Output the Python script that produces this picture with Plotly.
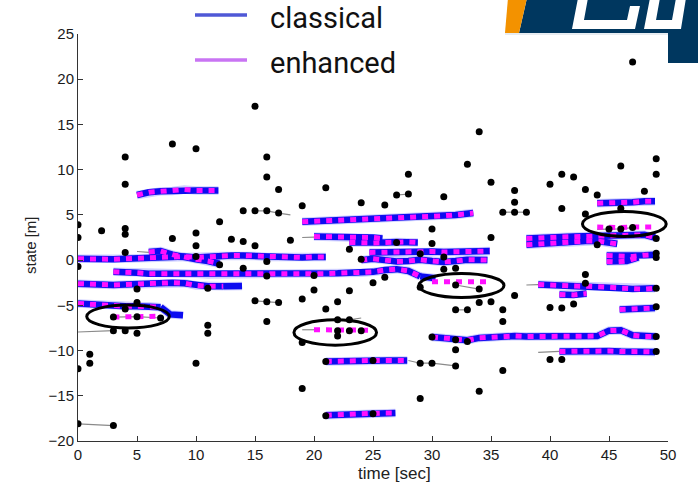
import plotly.graph_objects as go

# ---------------- measurements (black dots) ----------------
meas_t = [47, 15, 8, 10, 4, 16, 16, 4, 17, 19, 14, 15, 16, 17, 0, 0, 2, 4, 4, 12,
          8, 10, 10, 13, 14, 15, 18, 4, 0, 14, 5, 16, 20, 10, 11, 15, 16, 17, 16, 19,
          5, 4, 3, 5, 7, 3, 4, 5, 11, 11, 19, 0, 1, 1, 10, 19, 0, 3, 21, 28,
          33, 34, 35, 24, 27, 28, 26, 31, 37, 37, 36, 37, 38, 30, 30, 27, 35, 23, 31, 32,
          23, 25, 26, 22, 21, 29, 32, 34, 34, 35, 32, 33, 36, 36, 37, 22, 23, 22, 29, 30,
          32, 29, 32, 34, 36, 40, 41, 30, 25, 25, 22, 23, 24, 49, 49, 46, 41, 42, 40, 43,
          44, 48, 41, 43, 46, 45, 46, 47, 44, 43, 40, 41, 42, 49, 49, 49, 49, 49, 49, 49,
          43, 31, 29, 24, 12, 16, 20, 32, 33, 21, 21]
meas_y = [21.9, 17.0, 12.85, 12.3, 11.4, 11.4, 9.2, 8.4, 7.8, 6.0, 5.45, 5.45, 5.45, 5.2, 3.9, 2.5, 3.25, 3.5, 2.85, 4.25,
          2.4, 3.0, 1.6, 2.3, 2.05, 1.6, 2.2, 0.85, -0.7, -0.9, -3.2, -0.15, -3.3, 0.4, -3.1, -4.5, -4.6, -4.7, -6.8, -4.3,
          -4.7, -5.4, -6.3, -6.25, -6.4, -7.8, -7.8, -8.1, -7.2, -8.1, -9.1, -12.0, -10.4, -11.4, -11.4, -14.2, -18.1, -18.3, 8.0, 9.5,
          10.6, 14.2, 8.6, 6.35, 7.2, 7.3, 6.1, 7.0, 7.7, 6.4, 5.3, 5.3, 5.3, 3.45, 1.85, 1.95, 2.5, 1.2, -1.0, -0.9,
          -3.4, -2.5, -1.9, -4.6, -5.4, -3.0, -2.75, -3.2, -4.7, -4.6, -5.5, -5.5, -5.5, -6.8, -3.9, -6.6, -6.6, -8.4, -11.4, -11.4,
          -11.7, -15.3, -9.9, -14.5, -12.2, -11.0, -11.0, -8.5, -17.0, -11.1, -7.8, -7.8, -7.8, 11.2, 9.5, 10.4, 9.5, 9.2, 8.4, 7.8,
          7.2, 7.6, 5.7, 5.1, 5.7, 3.45, 3.45, 3.6, 1.7, -1.6, -5.25, -5.3, -4.85, 2.4, 0.75, 0.3, -3.1, -5.15, -8.45, -10.1,
          -2.55, 0.35, 0.7, 0.1, -0.5, -1.75, -1.7, -8.8, -9.0, -11.2, -17.2]

# ---------------- measurement associations (thin gray lines) ----------------
assoc_1_t, assoc_1_y = [15, 16, 17, 18], [5.45, 5.45, 5.2, 5.0]
assoc_2_t, assoc_2_y = [15, 16, 17], [-4.5, -4.6, -4.7]
assoc_3_t, assoc_3_y = [0, 3], [-18.1, -18.3]
assoc_4_t, assoc_4_y = [0, 3], [-7.95, -7.8]
assoc_5_t, assoc_5_y = [27, 28], [7.2, 7.3]
assoc_6_t, assoc_6_y = [36, 37, 38], [5.3, 5.3, 5.3]
assoc_7_t, assoc_7_y = [32, 34], [-2.75, -3.2]
assoc_8_t, assoc_8_y = [32, 33], [-5.5, -5.5]
assoc_9_t, assoc_9_y = [22, 23, 24], [-6.6, -6.6, -6.4]
assoc_10_t, assoc_10_y = [28, 29, 30, 32], [-11.1, -11.4, -11.4, -11.7]
assoc_11_t, assoc_11_y = [44, 45, 46, 47], [3.4, 3.45, 3.45, 3.6]
assoc_12_t, assoc_12_y = [19, 20], [2.5, 2.55]
assoc_13_t, assoc_13_y = [38, 39], [-2.75, -2.7]
assoc_14_t, assoc_14_y = [39, 40.8], [-10.2, -10.1]
assoc_15_t, assoc_15_y = [3, 5, 7], [-6.3, -6.25, -6.4]
assoc_16_t, assoc_16_y = [19, 20], [-7.7, -7.7]
assoc_17_t, assoc_17_y = [5, 6], [0.95, 0.85]

# ---------------- tracks common to both trackers ----------------
trk_1_t = [5, 6, 7, 8, 9, 10, 11, 11.9]
trk_1_y = [7.2, 7.5, 7.6, 7.65, 7.8, 7.7, 7.7, 7.7]
trk_2_t = list(range(0, 22))
trk_2_y = [0.15, 0.1, 0.1, 0.1, 0.15, 0.2, 0.2, 0.3, 0.4, 0.4, 0.3, 0.4, 0.45, 0.5, 0.5, 0.45,
           0.35, 0.3, 0.3, 0.3, 0.35, 0.35]
trk_3_t = [6, 7, 8, 9, 10, 11, 12]
trk_3_y = [0.9, 1.0, 0.6, 0.3, 0.1, -0.1, -0.4]
trk_4_t = list(range(3, 30))
trk_4_y = [-1.3, -1.3, -1.4, -1.5, -1.5, -1.5, -1.5, -1.5, -1.6, -1.6, -1.5, -1.5, -1.5, -1.55,
           -1.5, -1.5, -1.5, -1.55, -1.5, -1.45, -1.4, -1.4, -1.3, -1.1, -1.0, -1.2, -1.8]
trk_5_t = [0, 1, 2, 3, 4, 5, 6, 7, 8, 9, 10, 11, 12, 12.3]
trk_5_y = [-2.6, -2.7, -2.7, -2.75, -2.7, -2.65, -2.6, -2.45, -2.5, -2.55, -2.8, -2.9, -2.9, -2.9]
trk_6_t = [0, 1, 2, 3, 4, 5, 6, 7]
trk_6_y = [-4.8, -4.9, -5.0, -5.0, -5.1, -5.1, -5.1, -5.2]
trk_7_t = [19, 20, 21, 22, 23, 24, 25, 26, 27, 28, 29, 30, 31, 32, 33.5]
trk_7_y = [4.25, 4.3, 4.4, 4.4, 4.45, 4.5, 4.5, 4.6, 4.6, 4.7, 4.8, 4.8, 4.9, 5.0, 5.2]
trk_8_t = [20, 21, 22, 23, 24, 25, 25.8]
trk_8_y = [2.6, 2.6, 2.6, 2.55, 2.5, 2.5, 2.4]
trk_9_t = [23, 24, 25, 26, 27, 28, 28.8]
trk_9_y = [1.95, 1.9, 1.9, 1.95, 2.0, 2.0, 1.95]
trk_10_t = [24.7, 26, 27, 28, 29, 30, 31, 32, 33, 34, 34.9]
trk_10_y = [0.85, 0.9, 0.95, 0.95, 1.0, 0.95, 0.9, 0.9, 0.95, 1.0, 1.0]
trk_11_t = [24, 25, 26, 27, 28, 29, 30, 31, 32, 33, 34.7]
trk_11_y = [0.0, 0.15, 0.0, -0.15, -0.1, 0.05, -0.1, -0.2, -0.1, 0.05, 0.0]
trk_12_t = [44, 45, 46, 47, 48, 48.9]
trk_12_y = [6.3, 6.3, 6.4, 6.4, 6.5, 6.5]
trk_13_t = [38, 39, 40, 41, 42, 43, 44, 45, 46, 47, 48, 48.9]
trk_13_y = [2.4, 2.5, 2.5, 2.55, 2.6, 2.65, 2.7, 2.7, 2.75, 2.8, 2.8, 2.5]
trk_14_t = [38, 39, 40, 41, 42, 43, 44, 45, 45.7]
trk_14_y = [1.7, 1.8, 1.8, 1.9, 2.0, 2.1, 2.1, 1.9, 1.8]
trk_15_t = [44.8, 46, 47, 48, 48.9]
trk_15_y = [0.5, 0.5, 0.4, 0.55, 0.6]
trk_16_t = [44.8, 45.5, 46.5, 47.5]
trk_16_y = [-0.15, -0.2, -0.1, 0.3]
trk_17_t = [39, 40, 41, 42, 43, 44, 45, 46, 47, 48, 48.9]
trk_17_y = [-2.7, -2.75, -2.8, -2.75, -2.8, -2.9, -3.0, -3.1, -3.2, -3.2, -3.1]
trk_18_t = [40.8, 42, 43.1]
trk_18_y = [-3.8, -3.85, -3.7]
trk_19_t = [45.9, 47, 48, 48.9]
trk_19_y = [-5.45, -5.4, -5.45, -5.3]
trk_20_t = list(range(30, 50))
trk_20_y = [-8.5, -8.6, -8.8, -8.85, -8.6, -8.5, -8.4, -8.4, -8.45, -8.45, -8.45, -8.4, -8.4,
            -8.45, -8.4, -7.8, -7.75, -8.3, -8.45, -8.45]
trk_21_t = [40.8, 42, 43, 44, 45, 46, 47, 48, 48.9]
trk_21_y = [-10.1, -10.05, -10.0, -10.0, -10.05, -10.1, -10.15, -10.15, -10.15]
trk_22_t = [21, 22, 23, 24, 25, 26, 27, 27.9]
trk_22_y = [-11.2, -11.15, -11.1, -11.1, -11.1, -11.1, -11.1, -11.1]
trk_23_t = [21, 22, 23, 24, 25, 26, 26.9]
trk_23_y = [-17.15, -17.1, -16.95, -16.9, -16.9, -16.9, -16.9]

# ---------------- classical-only continuations ----------------
cls_tail_1_t, cls_tail_1_y = [29, 30.3], [-1.8, -2.0]
cls_tail_2_t, cls_tail_2_y = [12.3, 13, 13.9], [-2.9, -2.85, -2.85]
cls_tail_3_t, cls_tail_3_y = [7, 7.8, 8.9], [-5.2, -6.0, -6.1]

# ---------------- enhanced-only tracks ----------------
enh_1_t, enh_1_y = [3, 4, 5, 6, 7], [-6.3, -6.25, -6.2, -6.2, -6.2]
enh_2_t, enh_2_y = [20, 21, 22, 23, 24, 24.6], [-7.7, -7.7, -7.75, -7.7, -7.7, -7.75]
enh_3_t, enh_3_y = [30, 31, 32, 33, 34, 34.9], [-2.4, -2.35, -2.4, -2.4, -2.4, -2.4]
enh_4_t, enh_4_y = [44, 45, 46, 47, 48, 48.7], [3.65, 3.6, 3.6, 3.65, 3.65, 3.65]

# ---------------- highlighted regions (center t, center y, half-width, half-height) ----------------
ring_cx = [4.24, 21.8, 32.5, 46.3]
ring_cy = [-6.23, -8.0, -2.8, 4.0]
ring_rx = [3.5, 3.5, 3.6, 3.55]
ring_ry = [1.27, 1.4, 1.33, 1.38]

# axis ticks
x_ticks = [0, 5, 10, 15, 20, 25, 30, 35, 40, 45, 50]
y_ticks = [-20, -15, -10, -5, 0, 5, 10, 15, 20, 25]

legend_names = ["classical", "enhanced"]
legend_colors = ["#4f58d6", "#c974f3"]

assoc = [(assoc_1_t, assoc_1_y), (assoc_2_t, assoc_2_y), (assoc_3_t, assoc_3_y),
         (assoc_4_t, assoc_4_y), (assoc_5_t, assoc_5_y), (assoc_6_t, assoc_6_y),
         (assoc_7_t, assoc_7_y), (assoc_8_t, assoc_8_y), (assoc_9_t, assoc_9_y),
         (assoc_10_t, assoc_10_y), (assoc_11_t, assoc_11_y), (assoc_12_t, assoc_12_y),
         (assoc_13_t, assoc_13_y), (assoc_14_t, assoc_14_y), (assoc_15_t, assoc_15_y),
         (assoc_16_t, assoc_16_y), (assoc_17_t, assoc_17_y)]
shared = [(trk_1_t, trk_1_y), (trk_2_t, trk_2_y), (trk_3_t, trk_3_y), (trk_4_t, trk_4_y),
          (trk_5_t, trk_5_y), (trk_6_t, trk_6_y), (trk_7_t, trk_7_y), (trk_8_t, trk_8_y),
          (trk_9_t, trk_9_y), (trk_10_t, trk_10_y), (trk_11_t, trk_11_y), (trk_12_t, trk_12_y),
          (trk_13_t, trk_13_y), (trk_14_t, trk_14_y), (trk_15_t, trk_15_y), (trk_16_t, trk_16_y),
          (trk_17_t, trk_17_y), (trk_18_t, trk_18_y), (trk_19_t, trk_19_y), (trk_20_t, trk_20_y),
          (trk_21_t, trk_21_y), (trk_22_t, trk_22_y), (trk_23_t, trk_23_y)]
cls_only = [(cls_tail_1_t, cls_tail_1_y), (cls_tail_2_t, cls_tail_2_y), (cls_tail_3_t, cls_tail_3_y)]
enh_only = [(enh_1_t, enh_1_y), (enh_2_t, enh_2_y), (enh_3_t, enh_3_y), (enh_4_t, enh_4_y)]

BLUE = "#0c0cf0"
HALO = "rgba(120,120,255,0.35)"
MAGENTA = "#ff10ff"
DASH = "6px,6px"

fig = go.Figure()


def line(t, y, color, width, dash="solid"):
    fig.add_trace(go.Scatter(x=t, y=y, mode="lines", showlegend=False, hoverinfo="skip",
                             line=dict(color=color, width=width, dash=dash)))


for t, y in assoc:
    line(t, y, "#8a8a8a", 1.2)

# classical tracker: thick blue with a soft halo
for t, y in shared + cls_only:
    line(t, y, HALO, 8.5)
for t, y in shared + cls_only:
    line(t, y, BLUE, 6.5)

# enhanced tracker: magenta dashes on top
for t, y in shared + enh_only:
    line(t, y, MAGENTA, 5, DASH)

fig.add_trace(go.Scatter(x=meas_t, y=meas_y, mode="markers", showlegend=False, hoverinfo="skip",
                         marker=dict(color="black", size=7, line=dict(width=0))))

shapes = []
for cx, cy, rx, ry in zip(ring_cx, ring_cy, ring_rx, ring_ry):
    shapes.append(dict(type="circle", xref="x", yref="y", x0=cx - rx, x1=cx + rx,
                       y0=cy - ry, y1=cy + ry, line=dict(color="black", width=3)))


# helpers for pixel placement of the header decorations
def px(v):
    return (v - 78) / 590.0


def py(v):
    return (441 - v) / 407.0


def poly(points, color):
    d = "M" + " L".join(f"{px(a):.4f},{py(b):.4f}" for a, b in points) + " Z"
    return dict(type="path", xref="paper", yref="paper", path=d,
                fillcolor=color, line=dict(width=0), layer="above")


# header badge
shapes.append(poly([(527, -2), (700, -2), (700, 63), (668, 63), (668, 33), (519, 33)], "#00375f"))
shapes.append(poly([(508, -2), (527, -2), (519, 33), (505, 33)], "#f39200"))
shapes.append(dict(type="line", xref="paper", yref="paper", x0=px(505), x1=px(668), y0=py(34), y1=py(34),
                   line=dict(color="#cfd8e2", width=1)))
shapes.append(poly([(578, -2), (588, -2), (584, 20), (627, 20), (630, 6), (640, 6), (635, 29), (572, 29)], "white"))
shapes.append(poly([(650, -2), (660, -2), (656, 20), (672, 20), (676, -2), (686, -2), (681, 29), (644, 29)], "white"))

# legend
annotations = []
for i, (name, col) in enumerate(zip(legend_names, legend_colors)):
    ly = 15 + 45 * i
    shapes.append(dict(type="line", xref="paper", yref="paper", x0=px(195), x1=px(247),
                       y0=py(ly), y1=py(ly), line=dict(color=col, width=3.5)))
    annotations.append(dict(text=name, xref="paper", yref="paper", x=px(268), y=py(ly + 3),
                            xanchor="left", yanchor="middle", showarrow=False,
                            font=dict(family="Roboto", size=29, color="#111111")))

annotations.append(dict(text="time [sec]", xref="paper", yref="paper", x=px(394), y=py(473),
                        xanchor="center", yanchor="middle", showarrow=False,
                        font=dict(family="Liberation Sans, Arial", size=17, color="#222222")))
annotations.append(dict(text="state [m]", xref="paper", yref="paper", x=px(30), y=py(245),
                        xanchor="center", yanchor="middle", showarrow=False, textangle=-90,
                        font=dict(family="Liberation Sans, Arial", size=15, color="#222222")))

axis_common = dict(showgrid=False, zeroline=False, showline=True, linecolor="#333333", linewidth=1,
                   ticks="inside", ticklen=5, tickcolor="#333333",
                   tickfont=dict(family="Liberation Sans, Arial", size=15, color="#1a1a1a"))

fig.update_layout(
    width=698, height=484,
    margin=dict(l=78, r=30, t=34, b=43),
    paper_bgcolor="white", plot_bgcolor="white",
    xaxis=dict(range=[0, 50], tickvals=x_ticks, **axis_common),
    yaxis=dict(range=[-20, 25], tickvals=y_ticks, **axis_common),
    shapes=shapes, annotations=annotations,
    showlegend=False,
)

fig.write_html("out.html")
